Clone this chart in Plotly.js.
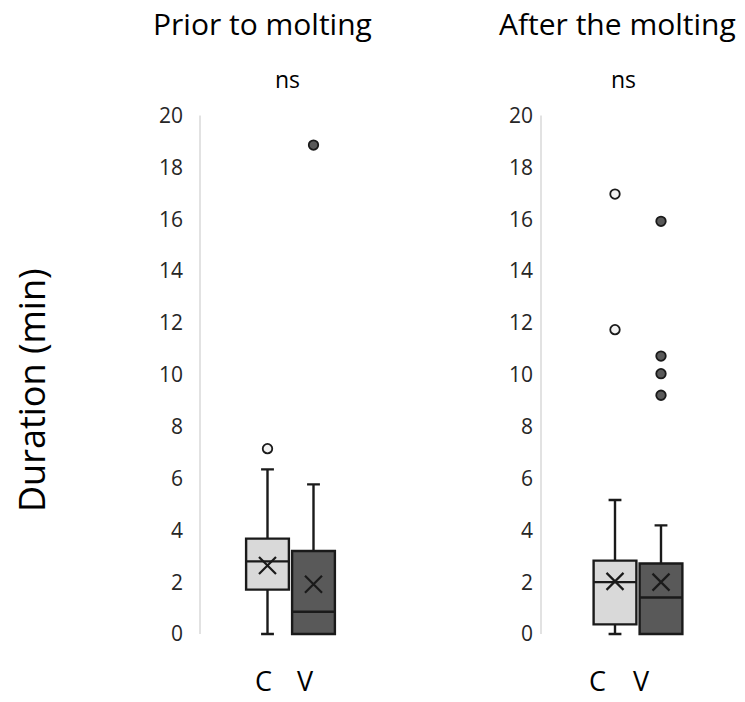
<!DOCTYPE html>
<html>
<head>
<meta charset="utf-8">
<script src="https://cdn.plot.ly/plotly-3.0.1.min.js"></script>
<style>
  html, body { margin: 0; padding: 0; background: #ffffff; }
  #chart { width: 745px; height: 702px; }
</style>
</head>
<body>
<div id="chart"></div>
<script>
// Duration (min) of the behaviour, grouped C / V, before and after molting
const groups = ['C', 'V'];
const groupPos = [1, 2];

// Prior to molting: five-number summaries, means and outliers
const priorQ1 = [1.71, 0.0];
const priorMedian = [2.80, 0.86];
const priorQ3 = [3.68, 3.20];
const priorLow = [0.0, 0.0];
const priorHigh = [6.35, 5.77];
const priorMean = [2.64, 1.92];
const priorOutC = [7.15];
const priorOutV = [18.86];

// After the molting
const afterQ1 = [0.37, 0.0];
const afterMedian = [2.00, 1.41];
const afterQ3 = [2.83, 2.72];
const afterLow = [0.0, 0.0];
const afterHigh = [5.17, 4.19];
const afterMean = [2.03, 2.00];
const afterOutC = [16.97, 11.74];
const afterOutV = [15.92, 10.72, 10.04, 9.21];

const yTicks = [0, 2, 4, 6, 8, 10, 12, 14, 16, 18, 20];
const panelTitles = ['Prior to molting', 'After the molting'];
const signifLabels = ['ns', 'ns'];
const yTitle = 'Duration (min)';

const fillColors = ['#d9d9d9', '#595959'];
const outlierFill = ['#f2f2f2', '#595959'];
const FONT = 'Open Sans, Noto Sans, sans-serif';
const INK = '#1a1a1a';

function panelTraces(q1, med, q3, lo, hi, mean, outC, outV, xa, ya) {
  const tr = [];
  for (let i = 0; i < groups.length; i++) {
    tr.push({
      type: 'box', xaxis: xa, yaxis: ya,
      x: [groupPos[i]],
      q1: [q1[i]], median: [med[i]], q3: [q3[i]],
      lowerfence: [lo[i]], upperfence: [hi[i]],
      width: 0.93, whiskerwidth: 0.3,
      fillcolor: fillColors[i],
      line: { color: INK, width: 2.4 },
      hoverinfo: 'skip', showlegend: false
    });
  }
  // means drawn as crosses
  tr.push({
    type: 'scatter', mode: 'markers', xaxis: xa, yaxis: ya,
    x: groupPos, y: mean,
    marker: { symbol: 'x-thin-open', size: 17, color: INK,
              line: { color: INK, width: 2.2 } },
    hoverinfo: 'skip', showlegend: false
  });
  const outs = [outC, outV];
  for (let i = 0; i < groups.length; i++) {
    tr.push({
      type: 'scatter', mode: 'markers', xaxis: xa, yaxis: ya,
      x: outs[i].map(() => groupPos[i]), y: outs[i],
      marker: { symbol: 'circle', size: 9.5, color: outlierFill[i],
                line: { color: INK, width: 1.8 } },
      cliponaxis: false,
      hoverinfo: 'skip', showlegend: false
    });
  }
  return tr;
}

const data = [].concat(
  panelTraces(priorQ1, priorMedian, priorQ3, priorLow, priorHigh, priorMean,
              priorOutC, priorOutV, 'x', 'y'),
  panelTraces(afterQ1, afterMedian, afterQ3, afterLow, afterHigh, afterMean,
              afterOutC, afterOutV, 'x2', 'y2')
);

const W = 745, H = 702;
const px = v => v / W;
const py = v => 1 - v / H;

// vertical scale: 0 at y=634 px, 20 at y=115.5 px, padded by 0.2 on each side
const yLo = -0.2, yHi = 20.2;
const ppu = (634 - 115.5) / 20;

function yAxis(standoff) {
  return {
    domain: [py(634 + 0.2 * ppu), py(115.5 - 0.2 * ppu)],
    range: [yLo, yHi],
    tickvals: yTicks,
    ticktext: yTicks.map(String),
    showgrid: false, zeroline: false, showline: false,
    ticks: '', ticklabelstandoff: standoff,
    tickfont: { family: FONT, size: 21, color: '#262626' },
    fixedrange: true
  };
}
function xAxis(domPx, center) {
  const unit = 46;
  const x0 = 1 - (center - domPx[0]) / unit;
  const x1 = x0 + (domPx[1] - domPx[0]) / unit;
  return {
    domain: [px(domPx[0]), px(domPx[1])],
    range: [x0, x1],
    showgrid: false, zeroline: false, showline: false,
    showticklabels: false, ticks: '', fixedrange: true
  };
}

const annFont = (size) => ({ family: FONT, size: size, color: '#000000' });
function label(text, x, y, size, extra) {
  return Object.assign({
    text: text, x: px(x), y: py(y), xref: 'paper', yref: 'paper',
    showarrow: false, font: annFont(size), xanchor: 'center', yanchor: 'middle'
  }, extra || {});
}
const annotations = [
  label(panelTitles[0], 262, 24, 30),
  label(panelTitles[1], 617, 24, 30),
  label(signifLabels[0], 287, 79, 23),
  label(signifLabels[1], 623, 79, 23),
  label(yTitle, 31, 390, 36, { textangle: -90 }),
  label(groups[0], 263, 680, 27),
  label(groups[1], 305, 680, 27),
  label(groups[0], 597, 680, 27),
  label(groups[1], 641, 680, 27)
];

// light vertical axis lines spanning 0..20
const shapes = [
  { type: 'line', xref: 'x domain', yref: 'y', x0: 0, x1: 0, y0: 0, y1: 20,
    line: { color: '#d9d9d9', width: 1.5 }, layer: 'below' },
  { type: 'line', xref: 'x2 domain', yref: 'y2', x0: 0, x1: 0, y0: 0, y1: 20,
    line: { color: '#d9d9d9', width: 1.5 }, layer: 'below' }
];

const layout = {
  width: W, height: H,
  margin: { l: 0, r: 0, t: 0, b: 0 },
  paper_bgcolor: '#ffffff', plot_bgcolor: 'rgba(0,0,0,0)',
  showlegend: false,
  xaxis: xAxis([200, 360], 267.5),
  yaxis: Object.assign(yAxis(16), { anchor: 'x' }),
  xaxis2: Object.assign(xAxis([541, 701], 615), { anchor: 'y2' }),
  yaxis2: Object.assign(yAxis(7), { anchor: 'x2' }),
  annotations: annotations,
  shapes: shapes
};

Plotly.newPlot('chart', data, layout, { staticPlot: true, displayModeBar: false });
</script>
</body>
</html>
